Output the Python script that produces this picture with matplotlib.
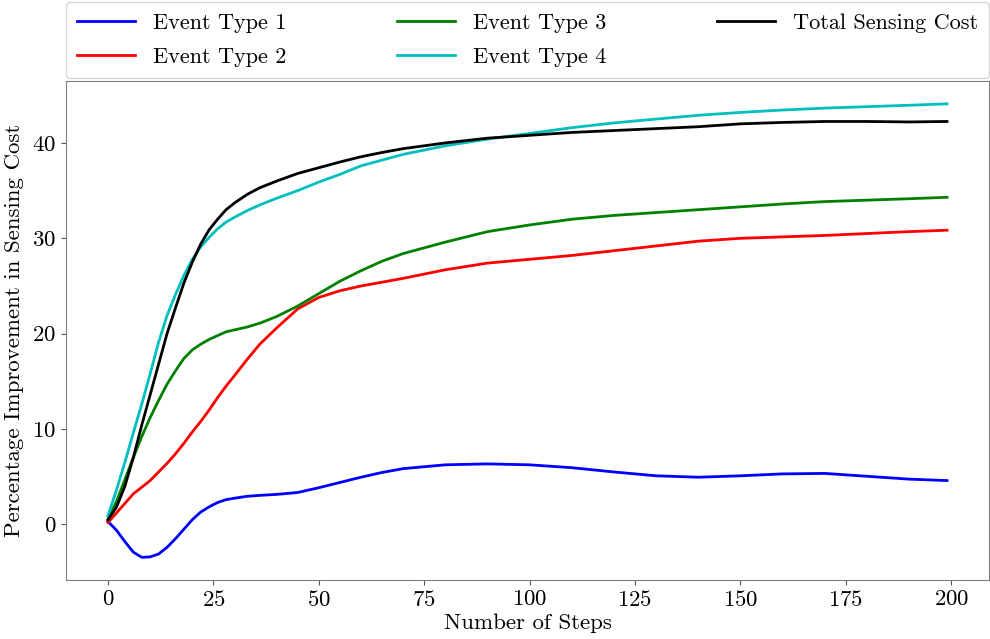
import matplotlib
matplotlib.use("Agg")
import matplotlib.pyplot as plt

plt.rcParams['font.family'] = ['cmr10', 'DejaVu Serif']
plt.rcParams['mathtext.fontset'] = 'cm'
plt.rcParams['axes.formatter.use_mathtext'] = True

steps = [0, 2, 4, 6, 8, 10, 12, 14, 16, 18, 20, 22, 24, 26, 28, 30, 33, 36, 40,
         45, 50, 55, 60, 65, 70, 80, 90, 100, 110, 120, 130, 140, 150, 160,
         170, 180, 190, 199]

event1 = [0.3, -0.6, -1.8, -2.9, -3.45, -3.4, -3.1, -2.4, -1.5, -0.5, 0.5, 1.3,
          1.85, 2.3, 2.6, 2.75, 2.95, 3.05, 3.15, 3.35, 3.85, 4.4, 4.95, 5.45,
          5.85, 6.25, 6.35, 6.25, 5.95, 5.5, 5.1, 4.95, 5.1, 5.3, 5.35, 5.05,
          4.75, 4.6]
event2 = [0.2, 1.2, 2.2, 3.2, 3.9, 4.6, 5.5, 6.4, 7.4, 8.5, 9.7, 10.8, 12.0,
          13.3, 14.5, 15.6, 17.3, 18.9, 20.6, 22.6, 23.8, 24.5, 25.0, 25.4,
          25.8, 26.7, 27.4, 27.8, 28.2, 28.7, 29.2, 29.7, 30.0, 30.15, 30.3,
          30.5, 30.7, 30.85]
event3 = [0.5, 2.4, 4.7, 7.0, 9.2, 11.2, 13.0, 14.7, 16.1, 17.4, 18.3, 18.9,
          19.4, 19.8, 20.2, 20.4, 20.7, 21.1, 21.8, 22.9, 24.2, 25.5, 26.6,
          27.6, 28.4, 29.6, 30.7, 31.4, 32.0, 32.4, 32.7, 33.0, 33.3, 33.6,
          33.85, 34.0, 34.15, 34.3]
event4 = [0.9, 3.6, 6.5, 9.6, 12.6, 15.8, 19.1, 21.9, 24.1, 26.1, 27.8, 29.1,
          30.1, 31.0, 31.7, 32.2, 32.9, 33.5, 34.2, 35.0, 35.9, 36.7, 37.6,
          38.2, 38.8, 39.7, 40.4, 41.0, 41.6, 42.1, 42.5, 42.9, 43.2, 43.45,
          43.65, 43.8, 43.95, 44.1]
total = [0.5, 1.8, 4.0, 7.0, 10.4, 13.6, 16.8, 20.0, 22.7, 25.3, 27.5, 29.4,
         30.9, 32.0, 33.0, 33.7, 34.6, 35.3, 36.0, 36.8, 37.4, 38.0, 38.55,
         39.0, 39.4, 40.0, 40.5, 40.8, 41.1, 41.3, 41.5, 41.7, 42.0, 42.15,
         42.25, 42.25, 42.2, 42.25]

labels = ['Event Type 1', 'Event Type 2', 'Event Type 3', 'Event Type 4',
          'Total Sensing Cost']
colors = ['b', 'r', 'g', 'c', 'k']
series = [event1, event2, event3, event4, total]

fig = plt.figure(figsize=(9.9, 6.39), dpi=100)
ax = fig.add_axes([0.0667, 0.0923, 0.9323, 0.7807])

for s, c, l in zip(series, colors, labels):
    ax.plot(steps, s, color=c, lw=2, label=l)

ax.set_xticks([0, 25, 50, 75, 100, 125, 150, 175, 200])
ax.set_yticks([0, 10, 20, 30, 40])
ax.tick_params(labelsize=16.5, color='#555555')
for sp in ax.spines.values():
    sp.set_color('#808080')

ax.set_xlabel('Number of Steps', fontsize=16.5, labelpad=3)
ax.set_ylabel('Percentage Improvement in Sensing Cost', fontsize=16.5, labelpad=6)

ax.legend(loc='lower left', bbox_to_anchor=(0, 1.006, 1, 0.15), mode='expand',
          ncol=3, borderaxespad=0, fontsize=16, handlelength=2.6,
          handletextpad=0.8, labelspacing=0.65, borderpad=0.5)

fig.savefig('out.png', dpi=100)
